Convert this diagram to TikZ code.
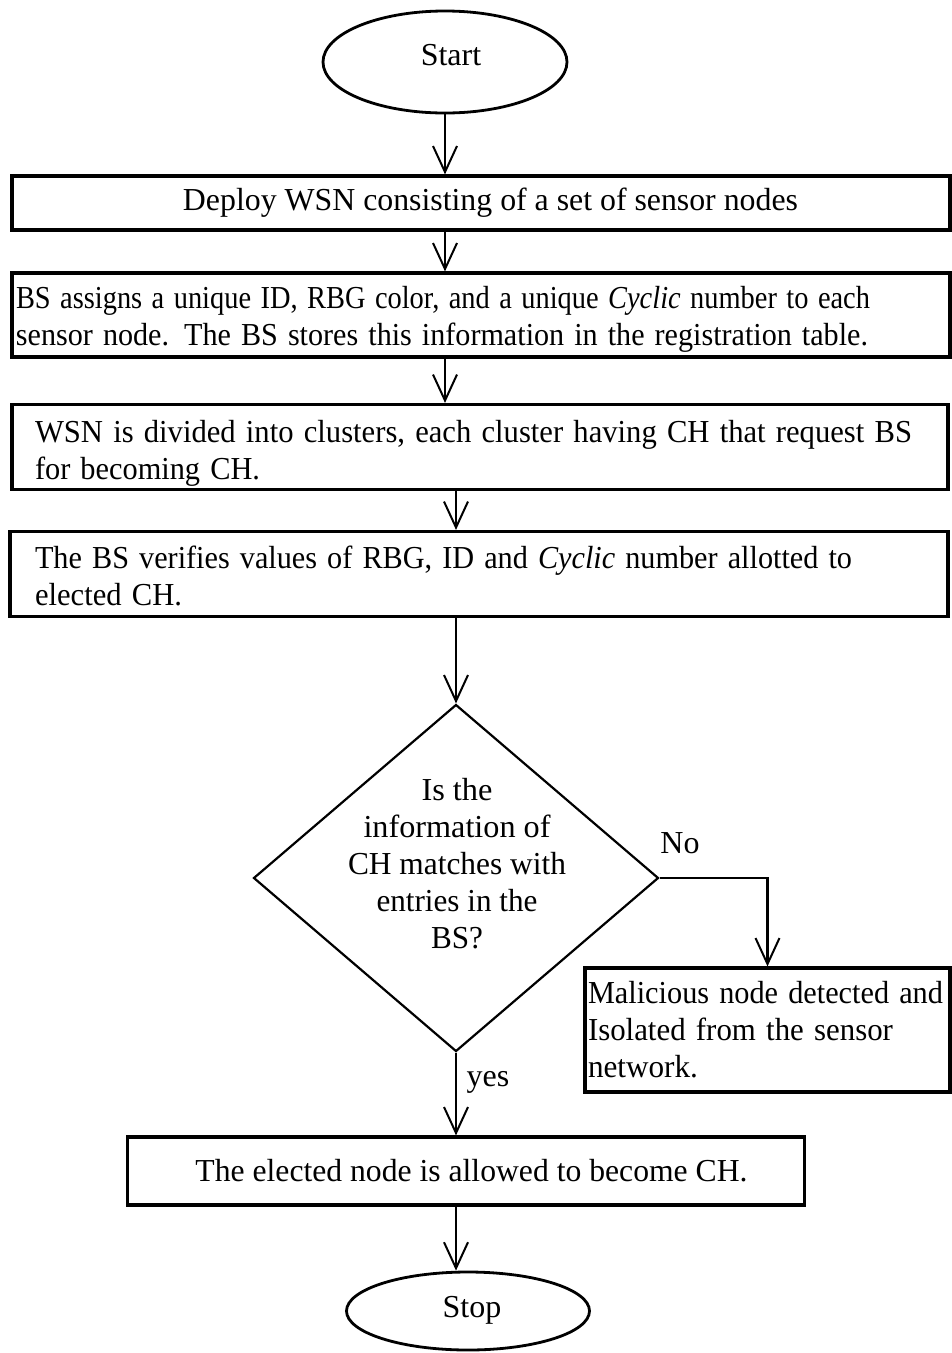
\documentclass[tikz,border=0pt]{standalone}
\usepackage{fontspec}
\usepackage{graphicx}
\setmainfont{Liberation Serif}
\usetikzlibrary{arrows.meta,shapes.geometric}

% set one line of text to a given width, keeping its height
\newcommand{\fitw}[2]{\resizebox{#1}{\height}{#2}}

\begin{document}
\begin{tikzpicture}[x=1pt,y=-1pt,
  every node/.style={font=\fontsize{32}{37}\selectfont},
  box/.style={draw,line width=3.2pt,rectangle,inner ysep=0pt},
  term/.style={draw,line width=2.8pt,ellipse,inner sep=0pt},
  decision/.style={draw,line width=2.2pt,diamond,inner sep=0pt},
  flow/.style={line width=2.7pt,-{Straight Barb[length=26pt,width=24pt,line width=2pt]}},
  lbl/.style={inner sep=0pt}
]
  % page
  \fill[white] (0,0) rectangle (952,1353);
  \useasboundingbox (0,0) rectangle (952,1353);

  % terminals
  \node[term,minimum width=244pt,minimum height=102pt] (start) at (445,62) {};
  \node[lbl] at (451,55) {Start};

  % process boxes
  \node[box,minimum width=938pt,minimum height=54pt] (b1) at (481,203)
    {\hspace*{19pt}\fitw{615pt}{Deploy WSN consisting of a set of sensor nodes}};
  \node[box,minimum height=84pt,inner xsep=4pt,text width=930pt,align=left] (b2) at (481,315)
    {\rule{0pt}{31pt}\fitw{854pt}{BS assigns a unique ID, RBG color, and a unique \textit{Cyclic} number to each}\\
     \fitw{852pt}{sensor node. The BS stores this information in the registration table.}};
  \node[box,minimum height=85pt,inner xsep=23pt,text width=890pt,align=left] (b3) at (480,447)
    {\rule{0pt}{34pt}\fitw{877pt}{WSN is divided into clusters, each cluster having CH that request BS}\\
     \fitw{225pt}{for becoming CH.}};
  \node[box,minimum height=85pt,inner xsep=25pt,text width=888pt,align=left] (b4) at (479,574)
    {\rule{0pt}{26pt}\fitw{817pt}{The BS verifies values of RBG, ID and \textit{Cyclic} number allotted to}\\
     \fitw{147pt}{elected CH.}};

  % decision
  \node[decision,minimum width=405pt,minimum height=347pt] (dec) at (456,878) {};
  \node[lbl,align=center] at (457,864)
    {\fitw{71pt}{Is the}\\\fitw{187pt}{information of}\\\fitw{218pt}{CH matches with}\\
     \fitw{161pt}{entries in the}\\\fitw{52pt}{BS?}};

  % outcomes
  \node[box,minimum height=124pt,inner xsep=3pt,text width=359pt,align=left] (b5) at (767.5,1030)
    {\fitw{355pt}{Malicious node detected and}\\\fitw{305pt}{Isolated from the sensor}\\
     \fitw{110pt}{network.}};
  \node[box,minimum width=677pt,minimum height=68pt] (b6) at (466,1171)
    {\hspace*{11pt}\fitw{552pt}{The elected node is allowed to become CH.}};

  \node[term,minimum width=243pt,minimum height=78pt] (stop) at (468,1311) {};
  \node[lbl] at (472,1310) {Stop};

  % connectors
  \draw[flow] (start.south) -- (start.south |- b1.north);
  \draw[flow] (start.south |- b1.south) -- (start.south |- b2.north);
  \draw[flow] (start.south |- b2.south) -- (start.south |- b3.north);
  \draw[flow] (dec.north |- b3.south) -- (dec.north |- b4.north);
  \draw[flow] (dec.north |- b4.south) -- (dec.north);
  \draw[flow] (dec.east) -| (b5.north);
  \draw[flow] (dec.south) -- (dec.south |- b6.north);
  \draw[flow] (dec.south |- b6.south) -- (dec.south |- stop.north);

  % branch labels
  \node[lbl] at (680,843) {No};
  \node[lbl] at (488,1082) {yes};
\end{tikzpicture}
\end{document}
